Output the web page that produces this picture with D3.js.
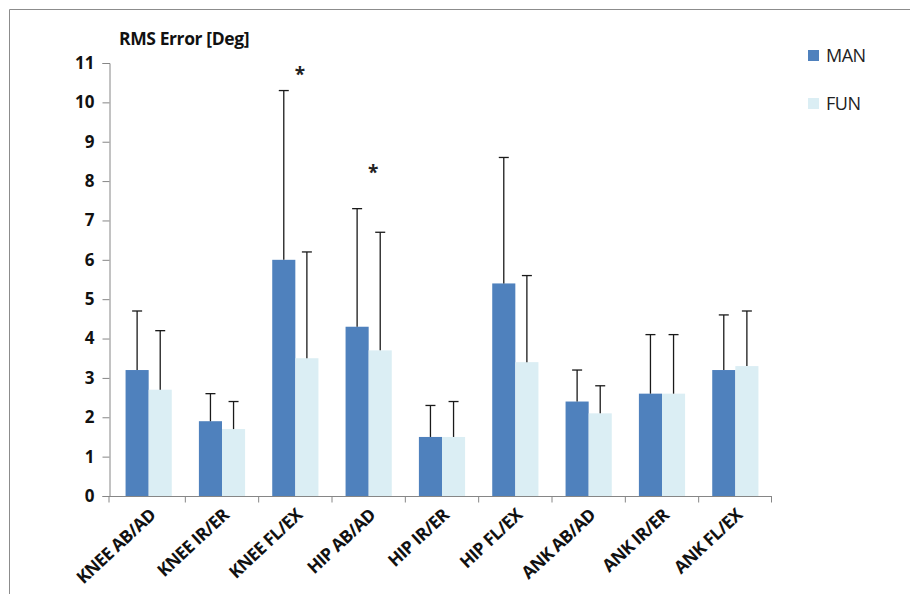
<!DOCTYPE html>
<html>
<head>
<meta charset="utf-8">
<script src="https://cdn.jsdelivr.net/npm/d3@7"></script>
<style>
    body { margin: 0; background: #fff; }
    svg { display: block; font-family: "Open Sans", sans-serif; }
</style>
</head>
<body>
<svg id="chart" width="910" height="594"></svg>
<script>
const categories = ['KNEE AB/AD', 'KNEE IR/ER', 'KNEE FL/EX', 'HIP AB/AD', 'HIP IR/ER',
    'HIP FL/EX', 'ANK AB/AD', 'ANK IR/ER', 'ANK FL/EX'];
const seriesNames = ['MAN', 'FUN'];
const manMean = [3.2, 1.9, 6.0, 4.3, 1.5, 5.4, 2.4, 2.6, 3.2];
const manSd = [1.5, 0.7, 4.3, 3.0, 0.8, 3.2, 0.8, 1.5, 1.4];
const funMean = [2.7, 1.7, 3.5, 3.7, 1.5, 3.4, 2.1, 2.6, 3.3];
const funSd = [1.5, 0.7, 2.7, 3.0, 0.9, 2.2, 0.7, 1.5, 1.4];
const yTicks = [0, 1, 2, 3, 4, 5, 6, 7, 8, 9, 10, 11];
const starCats = ['KNEE FL/EX', 'HIP AB/AD'];
const starValues = [10.75, 8.25];

const COLORS = { MAN: '#4f81bd', FUN: '#dbeef4' };
const AXIS_COLOR = '#868686';

const svg = d3.select('#chart');

// outer chart frame, only top and left edges visible in the picture
svg.append('path')
    .attr('d', 'M9.5,600 V9.5 H915')
    .attr('fill', 'none')
    .attr('stroke', '#8c8c8c')
    .attr('stroke-width', 1);

const x = d3.scaleBand().domain(categories).range([112, 772]).paddingInner(0.37).paddingOuter(0.185);
const xSeries = d3.scaleBand().domain(seriesNames).range([0, x.bandwidth()]);
const y = d3.scaleLinear().domain([0, 11]).range([496, 63]);

const rows = categories.map((c, i) => ({
    cat: c,
    values: [
        { name: 'MAN', mean: manMean[i], sd: manSd[i] },
        { name: 'FUN', mean: funMean[i], sd: funSd[i] }
    ]
}));

// bars
const groups = svg.append('g')
    .selectAll('g')
    .data(rows)
    .join('g')
    .attr('transform', (d) => `translate(${x(d.cat)},0)`);

groups.selectAll('rect')
    .data((d) => d.values)
    .join('rect')
    .attr('x', (d) => xSeries(d.name))
    .attr('y', (d) => y(d.mean))
    .attr('width', xSeries.bandwidth())
    .attr('height', (d) => y(0) - y(d.mean))
    .attr('fill', (d) => COLORS[d.name]);

// error bars (upper only)
const err = groups.selectAll('g.err')
    .data((d) => d.values)
    .join('g')
    .attr('class', 'err')
    .attr('stroke', '#1a1a1a')
    .attr('stroke-width', 1.3);

err.append('line')
    .attr('x1', (d) => xSeries(d.name) + xSeries.bandwidth() / 2)
    .attr('x2', (d) => xSeries(d.name) + xSeries.bandwidth() / 2)
    .attr('y1', (d) => y(d.mean))
    .attr('y2', (d) => y(d.mean + d.sd));

err.append('line')
    .attr('x1', (d) => xSeries(d.name) + xSeries.bandwidth() / 2 - 5)
    .attr('x2', (d) => xSeries(d.name) + xSeries.bandwidth() / 2 + 5)
    .attr('y1', (d) => y(d.mean + d.sd))
    .attr('y2', (d) => y(d.mean + d.sd));

// significance stars
svg.append('g')
    .selectAll('text')
    .data(starCats)
    .join('text')
    .attr('x', (d) => x(d) + xSeries('FUN') + xSeries.bandwidth() * 0.2)
    .attr('y', (d, i) => y(starValues[i]) + 8)
    .attr('text-anchor', 'middle')
    .attr('font-size', 19)
    .attr('font-weight', 'bold')
    .attr('fill', '#222')
    .text('*');

// y axis
const yAxis = svg.append('g')
    .attr('transform', 'translate(109.5,0)')
    .call(d3.axisLeft(y).tickValues(yTicks).tickSize(7).tickPadding(8));
yAxis.select('.domain').attr('stroke', AXIS_COLOR);
yAxis.selectAll('.tick line').attr('stroke', AXIS_COLOR);
yAxis.selectAll('.tick text')
    .attr('font-size', 17)
    .attr('font-weight', 'bold')
    .attr('fill', '#111')
    .attr('font-family', '"Open Sans", sans-serif');

// x axis
const xAxisG = svg.append('g').attr('transform', 'translate(0,496.5)');
xAxisG.append('line')
    .attr('x1', 109).attr('x2', 772)
    .attr('stroke', AXIS_COLOR);
const tickPos = [109].concat(categories.map((c) => x(c) + x.bandwidth() + x.step() * x.paddingInner() / 2));
tickPos[tickPos.length - 1] = 771.5;
xAxisG.selectAll('line.tk')
    .data(tickPos)
    .join('line')
    .attr('class', 'tk')
    .attr('x1', (d) => d).attr('x2', (d) => d)
    .attr('y1', 0).attr('y2', 6)
    .attr('stroke', AXIS_COLOR);

xAxisG.selectAll('text')
    .data(categories)
    .join('text')
    .attr('transform', (d) => `translate(${x(d) + x.bandwidth() / 2 + 8},${20}) rotate(-43)`)
    .attr('text-anchor', 'end')
    .attr('font-size', 17.5)
    .attr('font-weight', 'bold')
    .attr('fill', '#111')
    .attr('letter-spacing', -0.6)
    .attr('font-family', '"Open Sans", sans-serif')
    .text((d) => d);

// title
svg.append('text')
    .attr('x', 119)
    .attr('y', 45)
    .attr('font-size', 17.5)
    .attr('font-weight', 'bold')
    .attr('fill', '#111')
    .attr('letter-spacing', -0.4)
    .attr('font-family', '"Open Sans", sans-serif')
    .text('RMS Error [Deg]');

// legend
const legend = svg.append('g')
    .selectAll('g')
    .data(seriesNames)
    .join('g')
    .attr('transform', (d, i) => `translate(808,${55.5 + i * 48})`);
legend.append('rect')
    .attr('x', 0).attr('y', -5.5)
    .attr('width', 11).attr('height', 11)
    .attr('fill', (d) => COLORS[d]);
legend.append('text')
    .attr('x', 18)
    .attr('y', 6.5)
    .attr('font-size', 18)
    .attr('fill', '#222')
    .attr('letter-spacing', -0.5)
    .attr('font-family', '"Open Sans", sans-serif')
    .text((d) => d);
</script>
</body>
</html>
